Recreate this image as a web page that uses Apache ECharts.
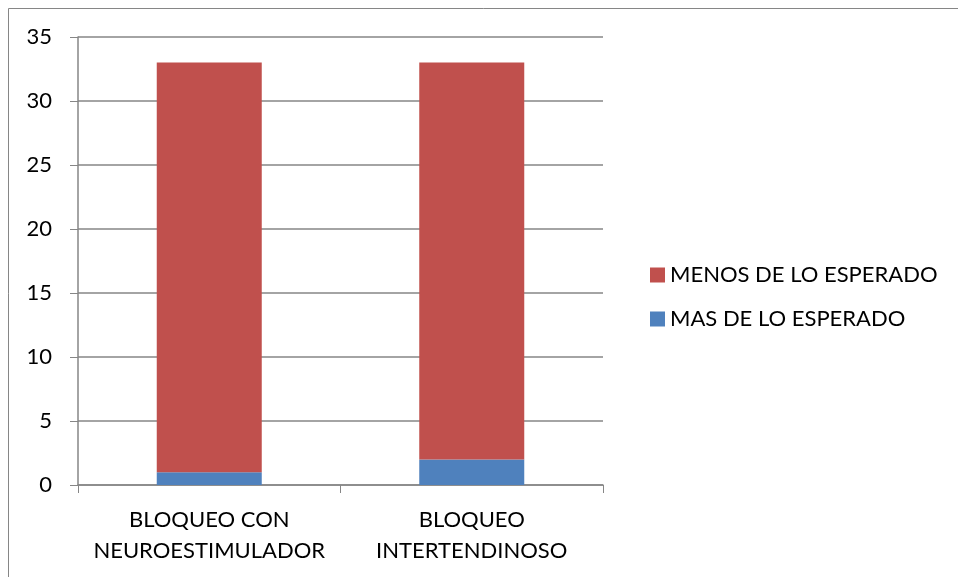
<!DOCTYPE html>
<html>
<head>
<meta charset="utf-8">
<script src="https://cdn.jsdelivr.net/npm/echarts@6/dist/echarts.min.js"></script>
<style>
  html, body { margin: 0; padding: 0; background: #fff; }
  #chart { width: 958px; height: 577px; }
</style>
</head>
<body>
<div id="chart"></div>
<script>
// Categories and stacked values
const categories = ['BLOQUEO CON\nNEUROESTIMULADOR', 'BLOQUEO\nINTERTENDINOSO'];
const masDeLoEsperado = [1, 2];
const menosDeLoEsperado = [32, 31];
const yTicks = { min: 0, max: 35, interval: 5 };

const chart = echarts.init(document.getElementById('chart'), null, { renderer: 'canvas' });
const font = 'Lato, "Open Sans", sans-serif';
const axisGray = '#868686';

chart.setOption({
  animation: false,
  backgroundColor: '#fff',
  textStyle: { fontFamily: font },
  graphic: [{
    type: 'rect',
    shape: { x: 8.5, y: 8.5, width: 1000, height: 1000 },
    style: { fill: 'none', stroke: axisGray, lineWidth: 1 },
    silent: true
  }],
  grid: { left: 78, right: 355, top: 37, bottom: 92, containLabel: false },
  legend: {
    orient: 'vertical',
    left: 645,
    top: 259,
    itemWidth: 15,
    itemHeight: 15,
    itemGap: 22,
    icon: 'rect',
    textStyle: { fontSize: 22, color: '#000', fontFamily: font, padding: [0, 0, 0, 0] },
    data: ['MENOS DE LO ESPERADO', 'MAS DE LO ESPERADO']
  },
  xAxis: {
    type: 'category',
    data: categories,
    boundaryGap: true,
    axisLine: { lineStyle: { color: axisGray, width: 1.5 } },
    axisTick: { show: true, length: 8, inside: false, lineStyle: { color: axisGray } },
    axisLabel: {
      interval: 0,
      hideOverlap: false,
      fontSize: 22,
      color: '#000',
      lineHeight: 31,
      margin: 19,
      fontFamily: font
    }
  },
  yAxis: {
    type: 'value',
    min: yTicks.min,
    max: yTicks.max,
    interval: yTicks.interval,
    axisLine: { show: true, lineStyle: { color: axisGray, width: 1.5 } },
    axisTick: { show: true, length: 8, lineStyle: { color: axisGray } },
    splitLine: { show: true, lineStyle: { color: axisGray, width: 1.5 } },
    axisLabel: { fontSize: 22, color: '#000', margin: 26, fontFamily: font }
  },
  series: [
    {
      name: 'MAS DE LO ESPERADO',
      type: 'bar',
      stack: 'total',
      barWidth: '40%',
      data: masDeLoEsperado,
      itemStyle: { color: '#4f81bd' }
    },
    {
      name: 'MENOS DE LO ESPERADO',
      type: 'bar',
      stack: 'total',
      barWidth: '40%',
      data: menosDeLoEsperado,
      itemStyle: { color: '#c0504d' }
    }
  ]
});
</script>
</body>
</html>
